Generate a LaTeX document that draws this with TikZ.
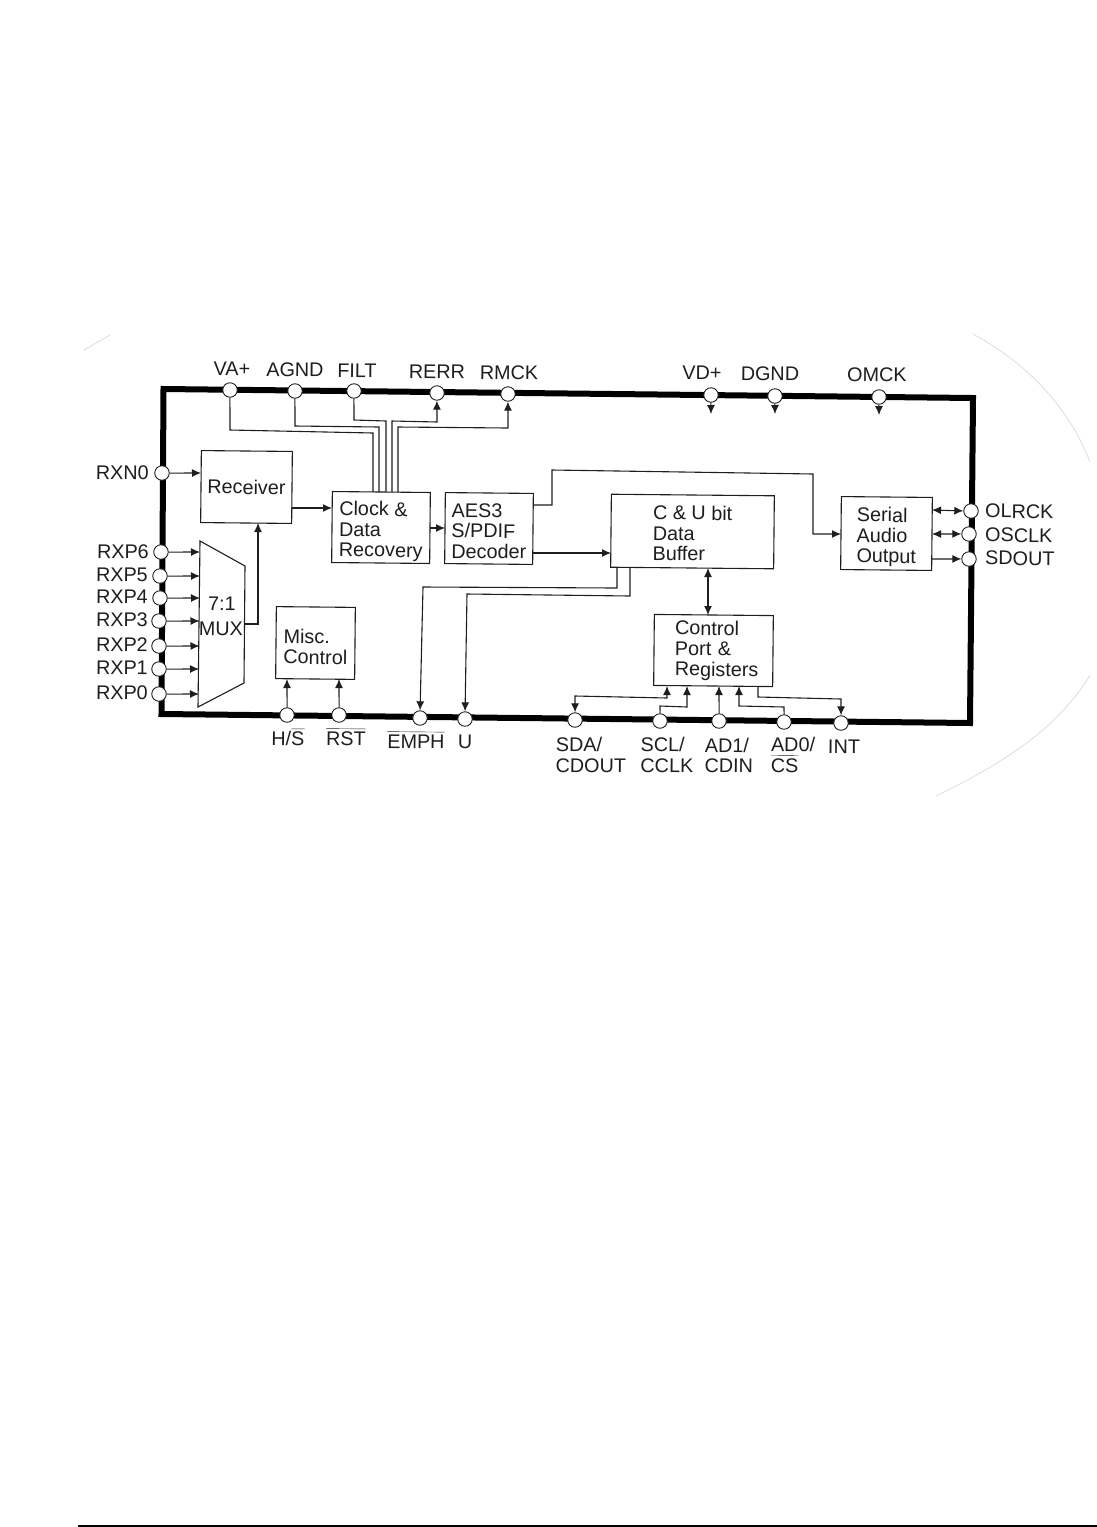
\documentclass[tikz,border=0pt]{standalone}
\usepackage{fontspec}
\setmainfont{Liberation Sans}
\usetikzlibrary{arrows.meta}
\definecolor{ink}{HTML}{1E1E1E}
\newcommand{\lab}{\fontsize{19.8}{20.5}\selectfont}
\newcommand{\ovl}[1]{$\overline{\hbox{\rule{0pt}{15.5pt}#1}}$}
\newcommand{\tf}[1]{\rule{0pt}{#1pt}}
\tikzset{
  every node/.append style={rotate=-0.55,font=\lab,text=ink,inner sep=0pt},
  pinnode/.style={circle,draw=ink,line width=0.9pt,fill=white,minimum width=14.5pt},
  blk/.style={draw=ink,line width=1.1pt,fill=white,align=left,inner sep=0pt},
  txt/.style={align=left},
  wire/.style={draw=ink,line width=1.1pt},
  arr/.style={wire,-{Latex[length=9pt,width=8pt]}},
  biarr/.style={wire,{Latex[length=9pt,width=8pt]}-{Latex[length=9pt,width=8pt]}},
  frame/.style={draw=black,line width=6pt,line join=miter},
  scan/.style={draw=black!15,line width=0.7pt}
}
\begin{document}
\begin{tikzpicture}[x=1pt,y=-1pt]
\useasboundingbox (0,0) rectangle (1097,1527);
% scan edges and page rule
\coordinate (e1) at (84,350); \coordinate (e2) at (110,335);
\coordinate (e3) at (973,334); \coordinate (e4) at (1090,462);
\coordinate (e5) at (1090,675); \coordinate (e6) at (936,796);
\draw[scan] (e1) -- (e2);
\draw[scan] (e3) .. controls (1030,365) and (1070,410) .. (e4);
\draw[scan] (e5) .. controls (1060,725) and (1010,760) .. (e6);
\coordinate (r1) at (78,1526); \coordinate (r2) at (1097,1526);
\draw[draw=black,line width=1.4pt] (r1) -- (r2);
% package frame
\coordinate (tl) at (163.5,389); \coordinate (tr) at (973,398);
\coordinate (br) at (970,723); \coordinate (bl) at (161.5,714);
\draw[frame] (tl) -- (tr) -- (br) -- (bl) -- cycle;
% pins
\foreach \n/\x/\y in {va/230/390,agnd/295/391,filt/354/391,rerr/437/393,rmck/508/394,vd/711/395,dgnd/775/396,omck/879/397,
  rxn/162/473,p6/161/552,p5/160/576,p4/160/598,p3/159/621,p2/159/646,p1/159/669,p0/159/694,
  hs/287/715,rst/339/715,emph/420/718,u/465/719,sda/575/720,scl/660/721,adone/719/721,adzero/784/722,int/841/723,
  olrck/971/511,osclk/969/534,sdout/969/559}
  {\node[pinnode] (\n) at (\x,\y) {};}
% blocks
\node[blk,minimum width=91pt,minimum height=72pt] (recv) at (246.5,487) {Receiver};
\node[blk,minimum width=98pt,minimum height=71pt] (clk) at (381,527.5) {\tf{22}Clock \&\\Data\\Recovery};
\node[blk,minimum width=88pt,minimum height=71pt] (aes) at (489,528.5) {\tf{19}AES3\\S/PDIF\\Decoder};
\node[blk,minimum width=163pt,minimum height=73pt] (cu) at (692.5,531.5) {\tf{18}C \& U bit\\Data\\Buffer};
\node[blk,minimum width=91pt,minimum height=73pt] (sao) at (886.5,533.5) {\tf{22}Serial\\Audio\\Output};
\node[blk,minimum width=119pt,minimum height=71pt,text width=77pt,inner xsep=21pt] (ctl) at (713.5,650.5) {Control\\Port \&\\Registers};
\node[blk,minimum width=79pt,minimum height=72pt] (misc) at (315.5,643) {\tf{22}Misc.\\Control};
\coordinate (ma) at (200,541); \coordinate (mb) at (245,566); \coordinate (mc) at (244,683); \coordinate (md) at (198,707);
\draw[wire,fill=white] (ma) -- (mb) -- (mc) -- (md) -- cycle;
\node[txt] (muxa) at (222,604) {7:1};
\node[txt] (muxb) at (221,629) {MUX};
% block ports
\foreach \n/\x/\y in {cka/373/492,ckb/379/492,ckc/386/492,ckd/392/492,cke/398/492,
  recvin/201/473,recvoutb/258/523,muxout/244.5/624,recvout/292/508,ckin/332/508,ckout/430/528,aesin/445/528,
  aesa/533/505,saoin/841/534,aesb/533/553,cuin/611/553,cua/617/568,cub/630/568,cuc/708/568,ctla/708/615,
  ctlb/667/686,ctlc/687/686,ctld/719/686,ctle/739/686,ctlf/758/686,
  saoa/932/510,saob/932/534,saoc/932/559,mischs/287/679,miscrst/339/679,
  mp6/200/552,mp5/200/576,mp4/200/598,mp3/199.5/621,mp2/199.5/646,mp1/199/669,mp0/199/694,
  vds/711/414,dgs/775/414,oms/879/415}
  {\coordinate (\n) at (\x,\y);}
% supply and clock bus
\draw[wire] (va.south) -- (230,430) -- (373,433) -- (cka);
\draw[wire] (agnd.south) -- (295,426) -- (379,427) -- (ckb);
\draw[wire] (filt.south) -- (354,420) -- (386,421) -- (ckc);
\draw[arr] (ckd) -- (392,421) -- (437,422) -- (rerr.south);
\draw[arr] (cke) -- (398,427) -- (508,428) -- (rmck.south);
% top stubs
\draw[arr] (vd.south) -- (vds);
\draw[arr] (dgnd.south) -- (dgs);
\draw[arr] (omck.south) -- (oms);
% left inputs
\draw[arr] (rxn.east) -- (recvin);
\foreach \a/\b in {p6/mp6,p5/mp5,p4/mp4,p3/mp3,p2/mp2,p1/mp1,p0/mp0}
  {\draw[arr] (\a.east) -- (\b);}
\draw[arr] (muxout) -- (258,624) -- (recvoutb);
% block to block
\draw[arr] (recvout) -- (ckin);
\draw[arr] (ckout) -- (aesin);
\draw[arr] (aesa) -- (552,505) -- (552,470) -- (813,474) -- (813,534) -- (saoin);
\draw[arr] (aesb) -- (cuin);
\draw[arr] (cua) -- (617,588) -- (423,587) -- (emph.north);
\draw[arr] (cub) -- (630,596) -- (467,594) -- (u.north);
\draw[biarr] (cuc) -- (ctla);
% misc
\draw[arr] (hs.north) -- (mischs);
\draw[arr] (rst.north) -- (miscrst);
% control port
\draw[biarr] (sda.north) -- (575,696) -- (667,698) -- (ctlb);
\draw[arr] (scl.north) -- (660,706) -- (687,707) -- (ctlc);
\draw[arr] (adone.north) -- (ctld);
\draw[arr] (adzero.north) -- (784,707) -- (739,706) -- (ctle);
\draw[arr] (ctlf) -- (758,697) -- (841,699) -- (int.north);
% serial port
\draw[biarr] (saoa) -- (olrck.west);
\draw[biarr] (saob) -- (osclk.west);
\draw[arr] (saoc) -- (sdout.west);
% labels
\foreach \n/\t/\x/\y in {lva/VA+/232/369,lagnd/AGND/295/370,lfilt/FILT/357/371,lrerr/RERR/437/372,lrmck/RMCK/509/373,
  lvd/VD+/702/373,ldg/DGND/770/374,lom/OMCK/877/375}
  {\node (\n) at (\x,\y) {\t};}
\foreach \n/\t/\x/\y in {lrxn/RXN0/149/473,lp6/RXP6/149/552,lp5/RXP5/148/575,lp4/RXP4/148/597,lp3/RXP3/148/620,lp2/RXP2/148/645,lp1/RXP1/148/668,lp0/RXP0/148/693}
  {\node[anchor=east] (\n) at (\x,\y) {\t};}
\foreach \n/\t/\x/\y in {lol/OLRCK/985/511,los/OSCLK/985/535,lsd/SDOUT/985/558}
  {\node[anchor=west] (\n) at (\x,\y) {\t};}
\node (lhs) at (288,737) {H/\ovl{S}};
\node (lrst) at (346,737) {\ovl{RST}};
\node (lemph) at (416,740) {\ovl{EMPH}};
\node (lu) at (465,742) {U};
\node[txt] (lsda) at (591,755) {SDA/\\CDOUT};
\node[txt] (lscl) at (667,755) {SCL/\\CCLK};
\node[txt] (lad1) at (729,755.5) {AD1/\\CDIN};
\node[txt] (lad0) at (793,755) {AD0/\\\ovl{CS}};
\node (lint) at (844,747) {INT};
\end{tikzpicture}
\end{document}
